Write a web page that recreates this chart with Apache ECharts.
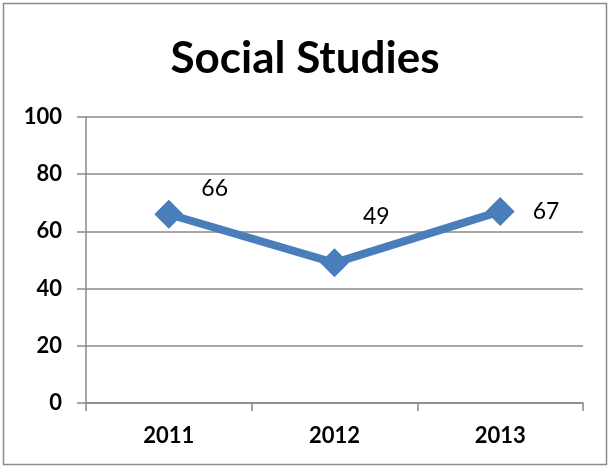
<!DOCTYPE html>
<html><head><meta charset="utf-8">
<script src="https://cdn.jsdelivr.net/npm/echarts@6/dist/echarts.min.js"></script>
<style>html,body{margin:0;padding:0;background:#fff}#c{width:610px;height:468px}</style>
</head><body><div id="c"></div>
<script>
const categories = ['2011', '2012', '2013'];
const scores = [66, 49, 67];
const yTicks = [0, 20, 40, 60, 80, 100];
const titleText = 'Social Studies';

const labelOffsets = [[8, -26], [4, -46], [8, 0]];
const chart = echarts.init(document.getElementById('c'));
chart.setOption({
  animation: false,
  backgroundColor: '#fff',
  graphic: [{type: 'rect', shape: {x: 3.5, y: 3.5, width: 603, height: 461}, style: {fill: 'none', stroke: '#8c8c8c', lineWidth: 1.5}, silent: true}],
  title: {text: titleText, left: 'center', top: 32, textStyle: {fontFamily: 'Lato', fontWeight: 'bold', fontSize: 44, color: '#000'}},
  grid: {left: 86, right: 27, top: 117, bottom: 65},
  xAxis: {type: 'category', data: categories, boundaryGap: true,
    axisLine: {lineStyle: {color: '#888', width: 1.5}},
    axisTick: {show: true, length: 8, lineStyle: {color: '#888', width: 1.5}},
    axisLabel: {fontFamily: 'Lato', fontWeight: 'bold', fontSize: 22, color: '#000', margin: 22}},
  yAxis: {type: 'value', min: yTicks[0], max: yTicks[yTicks.length - 1], interval: yTicks[1] - yTicks[0],
    axisLine: {show: true, lineStyle: {color: '#888', width: 1.5}},
    axisTick: {show: true, length: 9, lineStyle: {color: '#888', width: 1.5}},
    splitLine: {lineStyle: {color: '#888', width: 1.5}},
    axisLabel: {fontFamily: 'Lato', fontWeight: 'bold', fontSize: 22, color: '#000', margin: 24}},
  series: [{type: 'line',
    data: scores.map((v, i) => ({value: v, label: {offset: labelOffsets[i]}})),
    symbol: 'diamond', symbolSize: 29,
    lineStyle: {color: '#4a7ebb', width: 8},
    itemStyle: {color: '#4a7ebb'},
    label: {show: true, position: 'right', distance: 10, fontFamily: 'Lato', fontSize: 23, color: '#000'}}]
});
</script></body></html>
